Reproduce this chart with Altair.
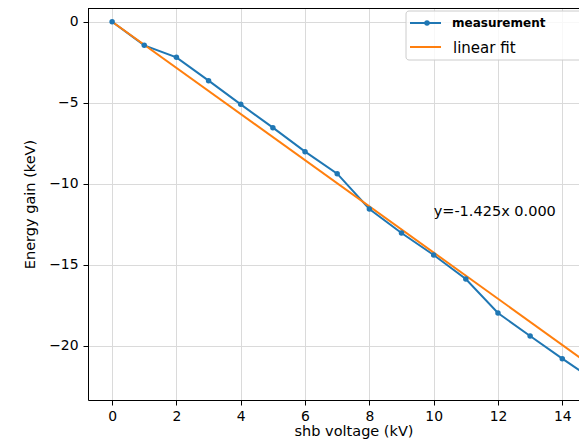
import altair as alt
import pandas as pd

# ---- data ----
voltage_kv = [0, 1, 2, 3, 4, 5, 6, 7, 8, 9, 10, 11, 12, 13, 14, 15]
energy_gain_kev = [0.0, -1.46, -2.20, -3.64, -5.10, -6.54, -8.02, -9.38,
                   -11.56, -13.04, -14.40, -15.88, -17.98, -19.40, -20.80, -22.15]
fit_x = [0, 15]
fit_y = [0.0, -21.375]
fit_label = "y=-1.425x 0.000"
fit_label_pos = [10, -12]
legend_labels = ["measurement", "linear fit"]
x_ticks = [0, 2, 4, 6, 8, 10, 12, 14]
y_ticks = [0, -5, -10, -15, -20]

BLUE = "#1f77b4"
ORANGE = "#ff7f0e"
FONT = "DejaVu Sans"
W, H = 491, 392

meas_df = pd.DataFrame({"v": voltage_kv, "e": energy_gain_kev})
fit_df = pd.DataFrame({"v": fit_x, "e": fit_y})
ann_df = pd.DataFrame({"v": [fit_label_pos[0]], "e": [fit_label_pos[1]], "t": [fit_label]})
one = pd.DataFrame({"a": [0]})

xs = alt.Scale(domain=[-0.75, 14.52], nice=False, zero=False)
ys = alt.Scale(domain=[-23.35, 0.846], nice=False, zero=False)

x_enc = alt.X("v:Q", scale=xs, axis=alt.Axis(
    values=x_ticks, title="shb voltage (kV)", titleX=265.5, titleY=35,
    titleBaseline="alphabetic", titleAlign="center", labelPadding=4,
    labelFlush=False, labelOverlap=False))
y_enc = alt.Y("e:Q", scale=ys, axis=alt.Axis(
    values=y_ticks, title="Energy gain (keV)", titleX=-58, titleAngle=270,
    titleAlign="center", titleBaseline="middle", labelPadding=5,
    labelExpr="replace(datum.label, '-', '−')", labelFlush=False,
    labelOverlap=False))

meas_line = alt.Chart(meas_df).mark_line(color=BLUE, strokeWidth=2, clip=True).encode(x=x_enc, y=y_enc)
meas_pts = alt.Chart(meas_df).mark_circle(color=BLUE, size=30, opacity=1, clip=True).encode(
    x=alt.X("v:Q", scale=xs), y=alt.Y("e:Q", scale=ys))
fit_line = alt.Chart(fit_df).mark_line(color=ORANGE, strokeWidth=2, clip=True).encode(
    x=alt.X("v:Q", scale=xs), y=alt.Y("e:Q", scale=ys))
ann = alt.Chart(ann_df).mark_text(align="left", baseline="alphabetic", fontSize=14.5,
                                  font=FONT, color="black").encode(
    x=alt.X("v:Q", scale=xs), y=alt.Y("e:Q", scale=ys), text="t:N")

top_border = alt.Chart(one).mark_rule(color="black", strokeWidth=1).encode(
    x=alt.value(0), x2=alt.value(W), y=alt.value(0.5))

leg_box = alt.Chart(one).mark_rect(fill="white", fillOpacity=0.8, stroke="#cccccc",
                                   strokeWidth=1, cornerRadius=3).encode(
    x=alt.value(318), x2=alt.value(560), y=alt.value(3), y2=alt.value(52))
leg_l1 = alt.Chart(one).mark_rule(color=BLUE, strokeWidth=2).encode(
    x=alt.value(322), x2=alt.value(353), y=alt.value(15))
leg_p1 = alt.Chart(one).mark_circle(color=BLUE, size=30, opacity=1).encode(
    x=alt.value(339), y=alt.value(15))
leg_l2 = alt.Chart(one).mark_rule(color=ORANGE, strokeWidth=2).encode(
    x=alt.value(322), x2=alt.value(353), y=alt.value(39))
leg_t1 = alt.Chart(one).mark_text(align="left", baseline="middle", fontSize=12,
                                  fontWeight="bold", font=FONT, color="black").encode(
    x=alt.value(364), y=alt.value(15), text=alt.value(legend_labels[0]))
leg_t2 = alt.Chart(one).mark_text(align="left", baseline="middle", fontSize=15,
                                  font=FONT, color="black").encode(
    x=alt.value(365), y=alt.value(40), text=alt.value(legend_labels[1]))

chart = alt.layer(
    meas_line, fit_line, meas_pts, ann, top_border,
    leg_box, leg_l1, leg_p1, leg_l2, leg_t1, leg_t2
).properties(
    width=W, height=H,
    autosize=alt.AutoSizeParams(type="none"),
    padding={"left": 80, "top": 0, "right": 0, "bottom": 40},
    background="white",
).configure_view(stroke=None).configure_axis(
    domainColor="black", domainWidth=1, tickColor="black", tickSize=5, tickWidth=1,
    labelColor="black", titleColor="black", labelFont=FONT, titleFont=FONT,
    labelFontSize=13.9, titleFontSize=14.5, titleFontWeight="normal",
    gridColor="#dadada", gridWidth=1,
)

chart.save("out.html", embed_options={"renderer": "svg", "actions": False})
